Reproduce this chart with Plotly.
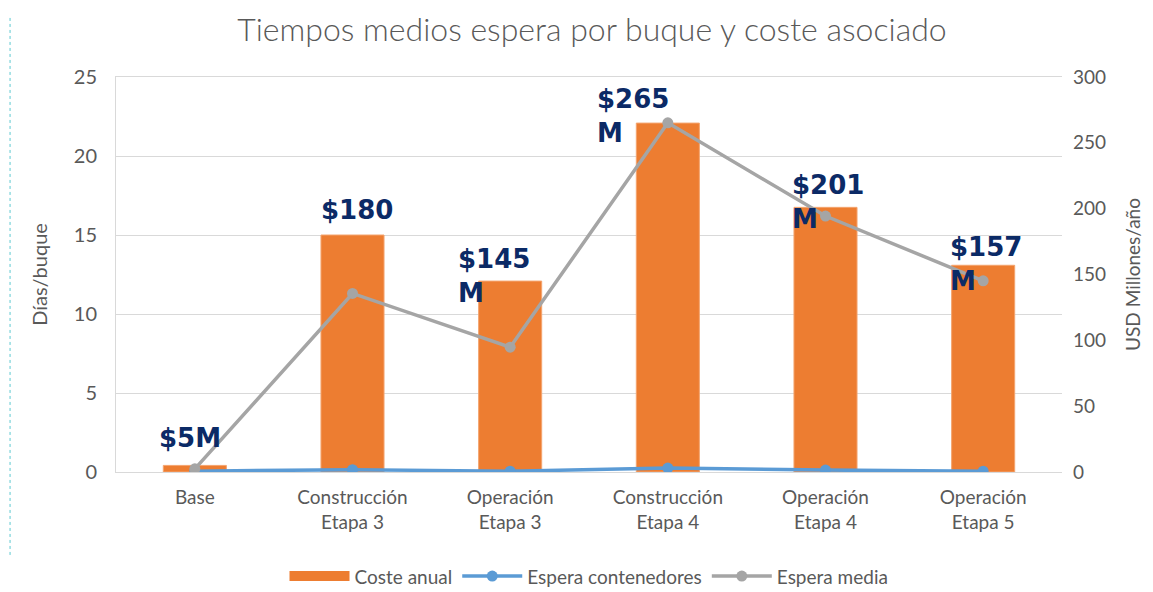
import plotly.graph_objects as go

categories = ["Base", "Construcción<br>Etapa 3", "Operación<br>Etapa 3",
              "Construcción<br>Etapa 4", "Operación<br>Etapa 4", "Operación<br>Etapa 5"]
coste_anual = [5, 180, 145, 265, 201, 157]          # USD millones/año
espera_contenedores = [0.05, 0.15, 0.05, 0.25, 0.12, 0.05]  # días/buque
espera_media = [0.2, 11.3, 7.9, 22.1, 16.2, 12.1]  # días/buque
cost_labels = ["$5M", "$180", "$145<br>M", "$265<br>M", "$201<br>M", "$157<br>M"]

# label offsets (px) from each bar top: left edge shift, top shift
label_dx = [-38, -34, -54, -73, -36, -35]
label_dy = [44, 42, 39, 41, 39, 35]

ORANGE = "#ED7D31"
BLUE = "#5B9BD5"
GRAY = "#A5A5A5"
NAVY = "#0B2A66"
TXT = "#595959"

fig = go.Figure()

fig.add_trace(go.Bar(
    x=categories, y=coste_anual, name="Coste anual", showlegend=False,
    marker=dict(color=ORANGE, line=dict(color="#F4A46E", width=1)),
    yaxis="y"))

# wide rectangular legend swatch for the bars, like the original
fig.add_trace(go.Scatter(
    x=[None], y=[None], name="Coste anual", mode="lines",
    line=dict(color=ORANGE, width=13), yaxis="y"))

fig.add_trace(go.Scatter(
    x=categories, y=espera_contenedores, name="Espera contenedores",
    mode="lines+markers", line=dict(color=BLUE, width=3.5),
    marker=dict(size=11, color=BLUE), yaxis="y2"))

fig.add_trace(go.Scatter(
    x=categories, y=espera_media, name="Espera media",
    mode="lines+markers", line=dict(color=GRAY, width=3.5),
    marker=dict(size=11, color=GRAY), yaxis="y2"))

for cat, val, lab, dx, dy in zip(categories, coste_anual, cost_labels, label_dx, label_dy):
    fig.add_annotation(
        x=cat, y=val, xref="x", yref="y", text=lab, showarrow=False,
        xanchor="left", yanchor="top", align="left",
        xshift=dx, yshift=dy,
        font=dict(family="DejaVu Sans", size=26, color=NAVY, weight="bold"))

fig.add_shape(type="line", xref="paper", yref="paper",
              x0=-0.112, x1=-0.112, y0=-0.21, y1=1.15,
              line=dict(color="#5BC8D0", width=1, dash="dot"))

fig.update_layout(
    width=1145, height=584,
    margin=dict(l=108, r=91, t=69, b=120),
    paper_bgcolor="white", plot_bgcolor="white",
    font=dict(family="Lato", color=TXT, size=17),
    title=dict(text="Tiempos medios espera por buque y coste asociado",
               x=0.51, xanchor="center", y=0.963, yanchor="middle",
               font=dict(family="Lato", size=32, color=TXT, weight=300)),
    bargap=0.6,
    showlegend=True,
    legend=dict(orientation="h", x=0.5, xanchor="center",
                yref="container", y=0.027, yanchor="middle",
                font=dict(size=19, color=TXT), traceorder="normal",
                itemwidth=60),
    xaxis=dict(showline=True, linecolor="#D9D9D9", mirror=True, automargin=False,
               tickfont=dict(size=19, color=TXT), ticks="", ticklabelstandoff=8),
    yaxis=dict(side="right", range=[0, 300], dtick=50, showgrid=False,
               zeroline=False, automargin=False, tickfont=dict(size=19, color=TXT),
               ticklabelstandoff=10,
               title=dict(text="USD Millones/año", font=dict(size=19, color=TXT),
                          standoff=21)),
    yaxis2=dict(side="left", overlaying="y", range=[0, 25], dtick=5,
                showgrid=True, gridcolor="#D9D9D9", zeroline=False,
                showline=True, linecolor="#D9D9D9", automargin=False,
                tickfont=dict(size=20, color=TXT), ticklabelstandoff=14,
                title=dict(text="Días/buque", font=dict(size=20, color=TXT),
                           standoff=20)),
)

fig.write_html("out.html")
